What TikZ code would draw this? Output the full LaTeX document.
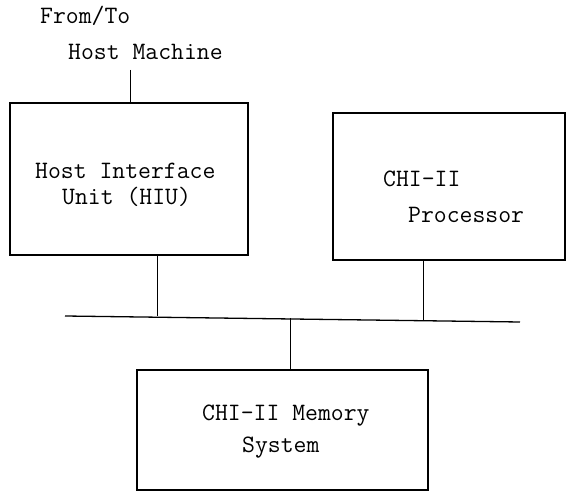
\documentclass[tikz,border=0pt]{standalone}
\usepackage{fontspec}
\begin{document}
\begin{tikzpicture}[x=1pt,y=-1pt,
  blk/.style={draw,line width=1.1pt,inner sep=0pt},
  lbl/.style={font=\ttfamily\fontsize{25}{29}\selectfont,inner sep=0pt,anchor=base west},
  wire/.style={line width=0.8pt}]
\useasboundingbox (0,0) rectangle (566,497);
% boxes
\node[blk,minimum width=238pt,minimum height=152pt] (hiu) at (129,179) {};
\node[blk,minimum width=232pt,minimum height=147pt] (proc) at (449,186.5) {};
\node[blk,minimum width=291pt,minimum height=120pt] (mem) at (282.5,430) {};
% texts
\node[lbl] (t1) at (40,24) {From/To};
\node[lbl] (t2) at (68,60) {Host Machine};
\node[lbl] (t3) at (35,179) {Host Interface};
\node[lbl] (t4) at (62,205) {Unit (HIU)};
\node[lbl] (t5) at (383,187) {CHI-II};
\node[lbl] (t6) at (408,223) {Processor};
\node[lbl] (t7) at (202,421) {CHI-II Memory};
\node[lbl] (t8) at (242,453) {System};
% bus
\coordinate (busL) at (65,316);
\coordinate (busR) at (520,322);
\draw[line width=1.3pt] (busL) -- (busR);
% connectors
\coordinate (hostin) at (130,70);
\draw[wire] (hostin) -- (hostin |- hiu.north);
\coordinate (b1) at (157,316.5);
\draw[wire] (hiu.south -| b1) -- (b1);
\coordinate (b2) at (423,321.5);
\draw[wire] (proc.south -| b2) -- (b2);
\coordinate (b3) at (290,318.5);
\draw[wire] (b3) -- (b3 |- mem.north);
\end{tikzpicture}
\end{document}
